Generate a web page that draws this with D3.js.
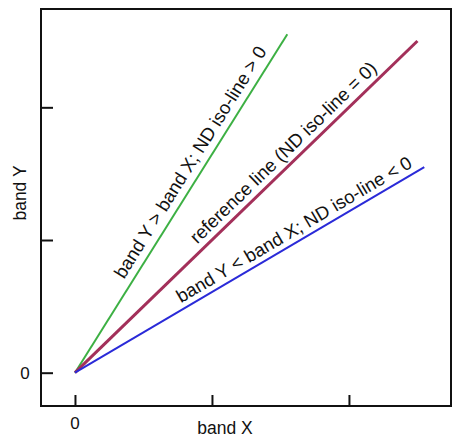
<!DOCTYPE html>
<html>
<head>
<meta charset="utf-8">
<script src="https://cdn.jsdelivr.net/npm/d3@7"></script>
<style>
  body { margin: 0; background: #fff; }
  text { font-family: "Liberation Sans", Arial, sans-serif; fill: #111; }
</style>
</head>
<body>
<script>
const width = 452;
const height = 437;

// tick positions (only 0 is labelled)
const xTicks = [0, 1, 2];
const yTicks = [0, 1, 2];

// end points of each line, all start at the origin
const lineNames = ['green', 'reference', 'blue'];
const lineEnds = [[1.55, 2.55], [2.5, 2.5], [2.55, 1.55]];
const lineLabels = [
  'band Y > band X; ND iso-line > 0',
  'reference line (ND iso-line = 0)',
  'band Y < band X; ND iso-line < 0'
];
const lineColors = ['#3cb043', '#a3305a', '#2a2ad8'];
const lineWidths = [2, 3, 2];
const labelAt = [0.6, 0.635, 0.645];   // fraction along the line
const labelGap = [8, 7, 6];

const margin = { left: 41, top: 9, right: 1, bottom: 31 };

const svg = d3.select(document.body)
  .append('svg')
  .attr('width', width)
  .attr('height', height);

const x = d3.scaleLinear()
  .domain([-0.248, 2.745])
  .range([margin.left, width - margin.right]);

const y = d3.scaleLinear()
  .domain([-0.251, 2.741])
  .range([height - margin.bottom, margin.top]);

// frame
svg.append('rect')
  .attr('x', x(-0.248))
  .attr('y', y(2.741))
  .attr('width', x(2.745) - x(-0.248))
  .attr('height', y(-0.251) - y(2.741))
  .style('fill', 'none')
  .style('stroke', '#111')
  .style('stroke-width', 2);

// inward ticks
const xAxis = d3.axisTop(x).tickValues(xTicks).tickSize(11).tickFormat('');
svg.append('g')
  .attr('transform', `translate(0,${y(-0.251)})`)
  .call(xAxis)
  .call(g => g.select('.domain').remove())
  .selectAll('line').style('stroke', '#111').style('stroke-width', 2);

const yAxis = d3.axisRight(y).tickValues(yTicks).tickSize(12).tickFormat('');
svg.append('g')
  .attr('transform', `translate(${x(-0.248)},0)`)
  .call(yAxis)
  .call(g => g.select('.domain').remove())
  .selectAll('line').style('stroke', '#111').style('stroke-width', 2);

// tick labels
svg.append('text')
  .attr('x', x(0))
  .attr('y', 429)
  .attr('text-anchor', 'middle')
  .style('font-size', '17px')
  .text('0');

svg.append('text')
  .attr('x', 25)
  .attr('y', y(0) + 6)
  .attr('text-anchor', 'middle')
  .style('font-size', '17px')
  .text('0');

// axis titles
svg.append('text')
  .attr('x', 225)
  .attr('y', 434)
  .attr('text-anchor', 'middle')
  .style('font-size', '17.5px')
  .text('band X');

svg.append('text')
  .attr('transform', `translate(26,193) rotate(-90)`)
  .attr('text-anchor', 'middle')
  .style('font-size', '17.5px')
  .text('band Y');

// lines
svg.selectAll('line.iso')
  .data(lineEnds)
  .enter()
  .append('line')
  .attr('class', 'iso')
  .attr('x1', x(0))
  .attr('y1', y(0))
  .attr('x2', d => x(d[0]))
  .attr('y2', d => y(d[1]))
  .style('stroke', (d, i) => lineColors[i])
  .style('stroke-width', (d, i) => lineWidths[i]);

// labels along the lines
svg.selectAll('text.iso')
  .data(lineEnds)
  .enter()
  .append('text')
  .attr('class', 'iso')
  .attr('transform', (d, i) => {
    const px = x(d[0] * labelAt[i]);
    const py = y(d[1] * labelAt[i]);
    const ang = Math.atan2(y(d[1]) - y(0), x(d[0]) - x(0)) * 180 / Math.PI;
    return `translate(${px},${py}) rotate(${ang})`;
  })
  .attr('dy', (d, i) => -labelGap[i])
  .attr('text-anchor', 'middle')
  .style('font-size', '18.5px')
  .text((d, i) => lineLabels[i]);
</script>
</body>
</html>
